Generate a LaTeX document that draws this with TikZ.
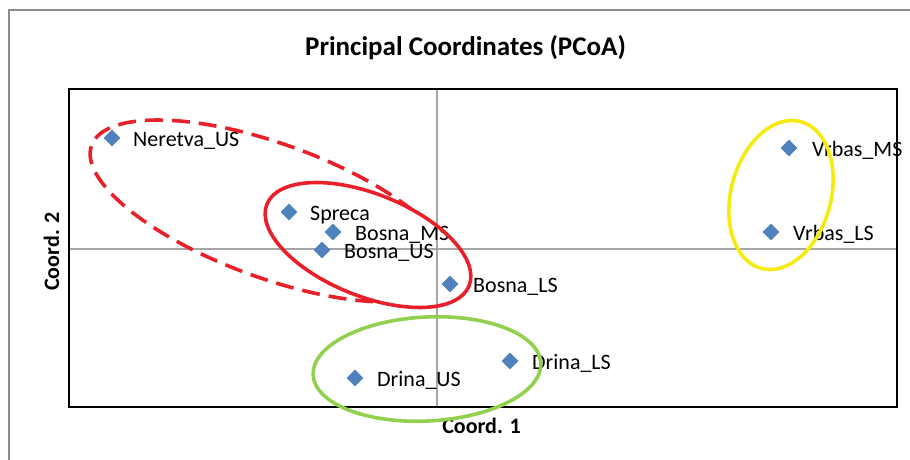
\documentclass[tikz,border=0pt]{standalone}
\usepackage{fontspec}
\setmainfont{Carlito}
\usetikzlibrary{shapes.geometric,calc}
\definecolor{ptblue}{HTML}{4F81BD}
\definecolor{ringred}{HTML}{E8202A}
\definecolor{ringgreen}{HTML}{92D050}
\definecolor{ringyellow}{HTML}{F5EB10}
\definecolor{framegray}{HTML}{8C8C8C}
\definecolor{axisgray}{HTML}{A6A6A6}
\tikzset{
  pt/.style={diamond, aspect=1, fill=ptblue, draw=none, inner sep=0pt, minimum size=17pt},
  lbl/.style={anchor=base west, inner sep=0pt, font=\fontsize{22}{26}\selectfont},
  axlbl/.style={anchor=base, inner sep=0pt, font=\bfseries\fontsize{22}{26}\selectfont},
  ring/.style={line width=3.6pt},
}
\begin{document}
\begin{tikzpicture}[x=1pt,y=-1pt]
\useasboundingbox (0,0) rectangle (910,459);
% outer chart frame
\draw[framegray, line width=2pt] (9,470) -- (9,10) -- (920,10);
% title
\node[anchor=base, inner sep=0pt, font=\bfseries\fontsize{27}{32}\selectfont] (title) at (465.5,55) {Principal Coordinates (PCoA)};
% axes
\draw[axisgray, line width=1.4pt] (437,89) -- (437,407);
\draw[axisgray, line width=1.4pt] (69,249) -- (897,249);
% axis titles
\node[axlbl] (xlab) at (481.5,433) {Coord. 1};
\node[axlbl, rotate=90] (ylab) at (59,251.5) {Coord. 2};
% points
\node[pt] (nu) at (112,138) {};
\node[pt] (sp) at (289,212) {};
\node[pt] (bm) at (333,232) {};
\node[pt] (bu) at (322,250) {};
\node[pt] (bl) at (450,284) {};
\node[pt] (du) at (355,378) {};
\node[pt] (dl) at (510,361) {};
\node[pt] (vm) at (789,148) {};
\node[pt] (vl) at (771,232) {};
% labels
\node[lbl] (nuL) at ($(nu)+(21,8.5)$) {Neretva\_US};
\node[lbl] (spL) at ($(sp)+(21,8.5)$) {Spreca};
\node[lbl] (bmL) at ($(bm)+(22,8.5)$) {Bosna\_MS};
\node[lbl] (buL) at ($(bu)+(22,8.5)$) {Bosna\_US};
\node[lbl] (blL) at ($(bl)+(23,8.5)$) {Bosna\_LS};
\node[lbl] (duL) at ($(du)+(22,8.5)$) {Drina\_US};
\node[lbl] (dlL) at ($(dl)+(22,8.5)$) {Drina\_LS};
\node[lbl] (vmL) at ($(vm)+(23,8.5)$) {Vrbas\_MS};
\node[lbl] (vlL) at ($(vl)+(22,8.5)$) {Vrbas\_LS};
% plot area border
\draw[black, line width=2pt] (69,89) rectangle (897,407);
% group rings: the dashed ring is hidden inside the solid one
\begin{scope}
  \pgfpathrectangle{\pgfpointxy{-10}{-10}}{\pgfpointxy{930}{480}}
  \pgfpathellipse{\pgfpointxy{368}{245}}{\pgfpointxy{101.06}{40.83}}{\pgfpointxy{-19.10}{47.29}}
  \pgfseteorule
  \pgfusepath{clip}
  \draw[ringred, ring, dash pattern=on 18pt off 9pt, rotate around={-20:(272,211)}]
    (272,211) ellipse [x radius=192pt, y radius=67pt];
\end{scope}
\draw[ringred, ring, rotate around={-22:(368,245)}]
  (368,245) ellipse [x radius=109pt, y radius=51pt];
\draw[ringgreen, ring, rotate around={3:(427,369)}]
  (427,369) ellipse [x radius=114pt, y radius=52pt];
\draw[ringyellow, ring, rotate around={-15:(781,195)}]
  (781,195) ellipse [x radius=50pt, y radius=76pt];
\end{tikzpicture}
\end{document}
